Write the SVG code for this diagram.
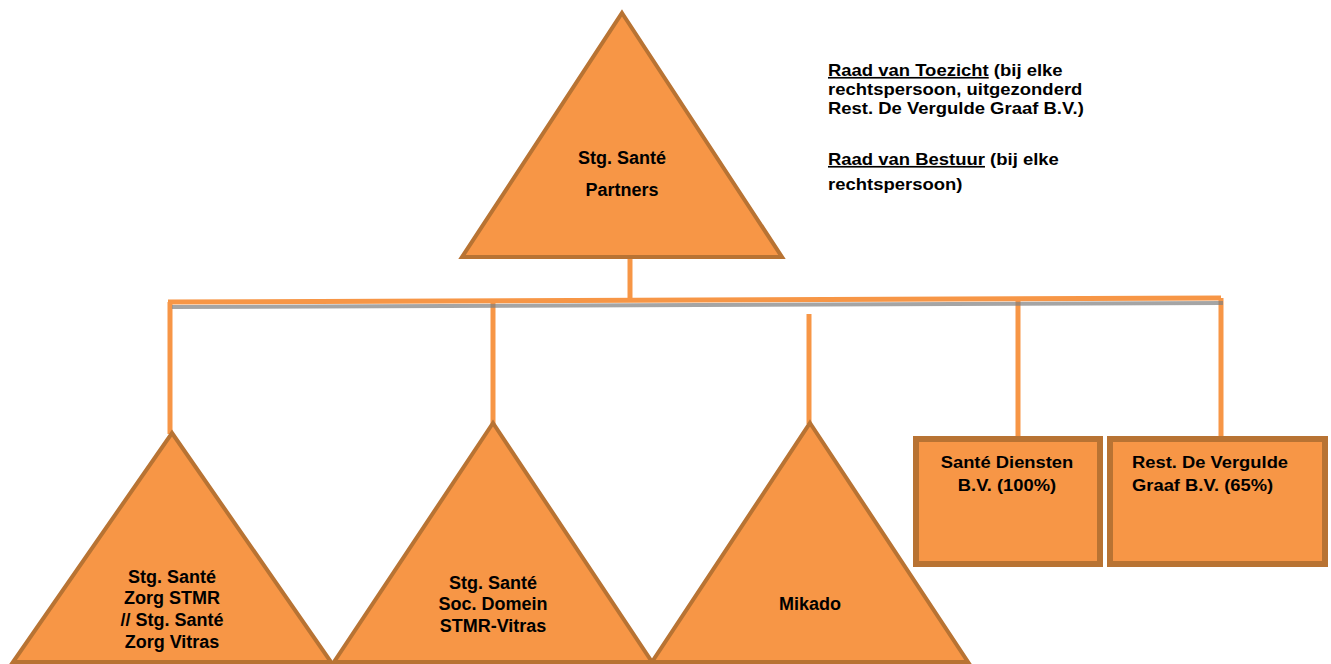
<svg xmlns="http://www.w3.org/2000/svg" width="1331" height="664" viewBox="0 0 1331 664">
<style>
.tri{fill:#F79646;stroke:#B87333;stroke-width:4;stroke-linejoin:miter}
.box{fill:#F79646;stroke:#B87333;stroke-width:6}
.t{font-family:"Liberation Sans",Arial,sans-serif;font-weight:bold;font-size:18px;fill:#000;text-anchor:middle}
.tb{font-family:"Liberation Sans",Arial,sans-serif;font-weight:bold;font-size:17px;fill:#000}
.note{font-family:"Liberation Sans",Arial,sans-serif;font-weight:bold;font-size:16.5px;fill:#000}
.c{stroke:#F79646;stroke-width:5;fill:none}
.sh{stroke:#7f7f7f;stroke-opacity:0.7;stroke-width:4;fill:none}
</style>
<rect width="1331" height="664" fill="#fff"/>
<g id="connectors">
<line class="c" x1="630" y1="257" x2="630" y2="302"/>
<line class="c" x1="170" y1="302" x2="170" y2="434"/>
<line class="c" x1="493" y1="302" x2="493" y2="424"/>
<line class="c" x1="809" y1="314" x2="809" y2="424"/>
<line class="c" x1="1018" y1="300" x2="1018" y2="436"/>
<line class="c" x1="1221" y1="298" x2="1221" y2="436"/>
<line class="sh" x1="172" y1="307" x2="1223" y2="303"/>
<line class="c" x1="168" y1="302" x2="1221" y2="298"/>
</g>
<g id="node-top">
<polygon class="tri" points="622,13 782,257 462,257"/>
<text class="t" x="622" y="164">Stg. Santé</text>
<text class="t" x="622" y="196">Partners</text>
</g>
<g id="node-note" transform="translate(828,0) scale(1.12,1)">
<text class="note" x="0" y="76"><tspan text-decoration="underline">Raad van Toezicht</tspan> (bij elke</text>
<text class="note" x="0" y="95">rechtspersoon, uitgezonderd</text>
<text class="note" x="0" y="114">Rest. De Vergulde Graaf B.V.)</text>
<text class="note" x="0" y="165"><tspan text-decoration="underline">Raad van Bestuur</tspan> (bij elke</text>
<text class="note" x="0" y="190">rechtspersoon)</text>
</g>
<g id="node-zorg">
<polygon class="tri" points="172,433 331,662 13,662"/>
<text class="t" x="172" y="583">Stg. Santé</text>
<text class="t" x="172" y="604">Zorg STMR</text>
<text class="t" x="172" y="626">// Stg. Santé</text>
<text class="t" x="172" y="648">Zorg Vitras</text>
</g>
<g id="node-soc">
<polygon class="tri" points="493,423 652,662 334,662"/>
<text class="t" x="493" y="589">Stg. Santé</text>
<text class="t" x="493" y="610">Soc. Domein</text>
<text class="t" x="493" y="632">STMR-Vitras</text>
</g>
<g id="node-mikado">
<polygon class="tri" points="810,423 968,662 652,662"/>
<text class="t" x="810" y="610">Mikado</text>
</g>
<g id="node-diensten">
<rect class="box" x="916" y="439" width="184" height="125"/>
<g transform="translate(1007,0) scale(1.08,1)">
<text class="tb" x="0" y="468" text-anchor="middle">Santé Diensten</text>
<text class="tb" x="0" y="491" text-anchor="middle">B.V. (100%)</text>
</g>
</g>
<g id="node-graaf">
<rect class="box" x="1110" y="439" width="215" height="125"/>
<g transform="translate(1132,0) scale(1.08,1)">
<text class="tb" x="0" y="468">Rest. De Vergulde</text>
<text class="tb" x="0" y="491">Graaf B.V. (65%)</text>
</g>
</g>
</svg>
